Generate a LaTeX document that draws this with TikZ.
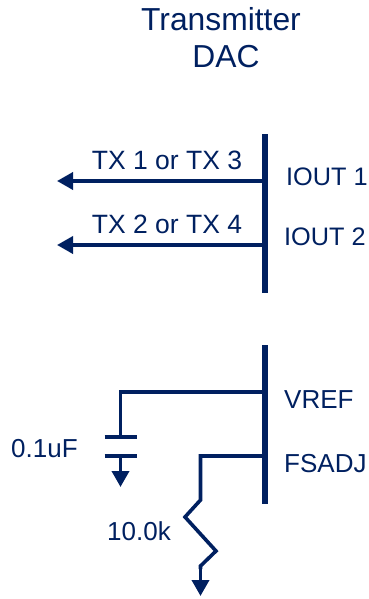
\documentclass[tikz,border=0pt]{standalone}
\usepackage{fontspec}
\setmainfont{Liberation Sans}
\usetikzlibrary{arrows.meta}
\definecolor{navy}{RGB}{0,32,96}
\tikzset{
 wire/.style={draw=navy,line width=3.6pt,line join=miter},
 bus/.style={draw=navy,line width=6pt},
 plate/.style={draw=navy,line width=4pt},
 tip/.style={-{Triangle[length=16pt,width=17pt,fill=navy]}},
 lbl/.style={text=navy,font=\fontsize{26}{28}\selectfont,inner sep=0pt,anchor=base},
 iol/.style={text=navy,font=\fontsize{25.3}{28}\selectfont,inner sep=0pt,anchor=base west},
 txl/.style={text=navy,font=\fontsize{26.5}{28}\selectfont,inner sep=0pt,anchor=base},
 ttl/.style={text=navy,font=\fontsize{31.8}{36}\selectfont,inner sep=0pt,anchor=base}
}
\begin{document}
\begin{tikzpicture}[x=1pt,y=-1pt]
\useasboundingbox (0,0) rectangle (368,599);
\node[ttl] (t1) at (221,31) {Transmitter};
\node[ttl] (t2) at (226,68) {DAC};
% upper bus
\coordinate (a1) at (264.5,134); \coordinate (a2) at (264.5,293);
\draw[bus] (a1) -- (a2);
\coordinate (i1) at (264.5,181); \coordinate (o1) at (57,181);
\coordinate (i2) at (264.5,245); \coordinate (o2) at (57,245);
\draw[wire,tip] (i1) -- (o1);
\draw[wire,tip] (i2) -- (o2);
\node[txl] (tx1) at (167,169) {TX 1 or TX 3};
\node[txl] (tx2) at (167,233) {TX 2 or TX 4};
\node[iol] (io1) at (286,185) {IOUT 1};
\node[iol] (io2) at (284,245) {IOUT 2};
% lower bus
\coordinate (b1) at (264.5,345); \coordinate (b2) at (264.5,504);
\draw[bus] (b1) -- (b2);
\coordinate (vr) at (264.5,392); \coordinate (vc) at (120.5,392);
\coordinate (cap1) at (120.5,437); \coordinate (cap2) at (120.5,456); \coordinate (gnd1) at (120.5,487);
\draw[wire] (vr) -- (vc) -- (cap1);
\draw[plate] (104.5,437) -- (136.5,437);
\draw[plate] (104.5,456) -- (136.5,456);
\draw[wire,tip] (cap2) -- (gnd1);
\coordinate (fs) at (264.5,456); \coordinate (r0) at (200.5,456);
\coordinate (r1) at (200.5,500); \coordinate (r2) at (185,517); \coordinate (r3) at (216,551);
\coordinate (r4) at (200.5,566); \coordinate (gnd2) at (200.5,596);
\draw[wire] (fs) -- (r0) -- (r1) -- (r2) -- (r3) -- (r4) -- ++(0,3);
\draw[wire,tip] (r4) -- (gnd2);
\node[lbl,anchor=base west] (vl) at (284,408.5) {VREF};
\node[lbl,anchor=base west] (fl) at (284,472) {FSADJ};
\node[lbl,anchor=base west] (cl) at (11,457) {0.1uF};
\node[lbl,anchor=base west] (rl) at (107,540) {10.0k};
\end{tikzpicture}
\end{document}
